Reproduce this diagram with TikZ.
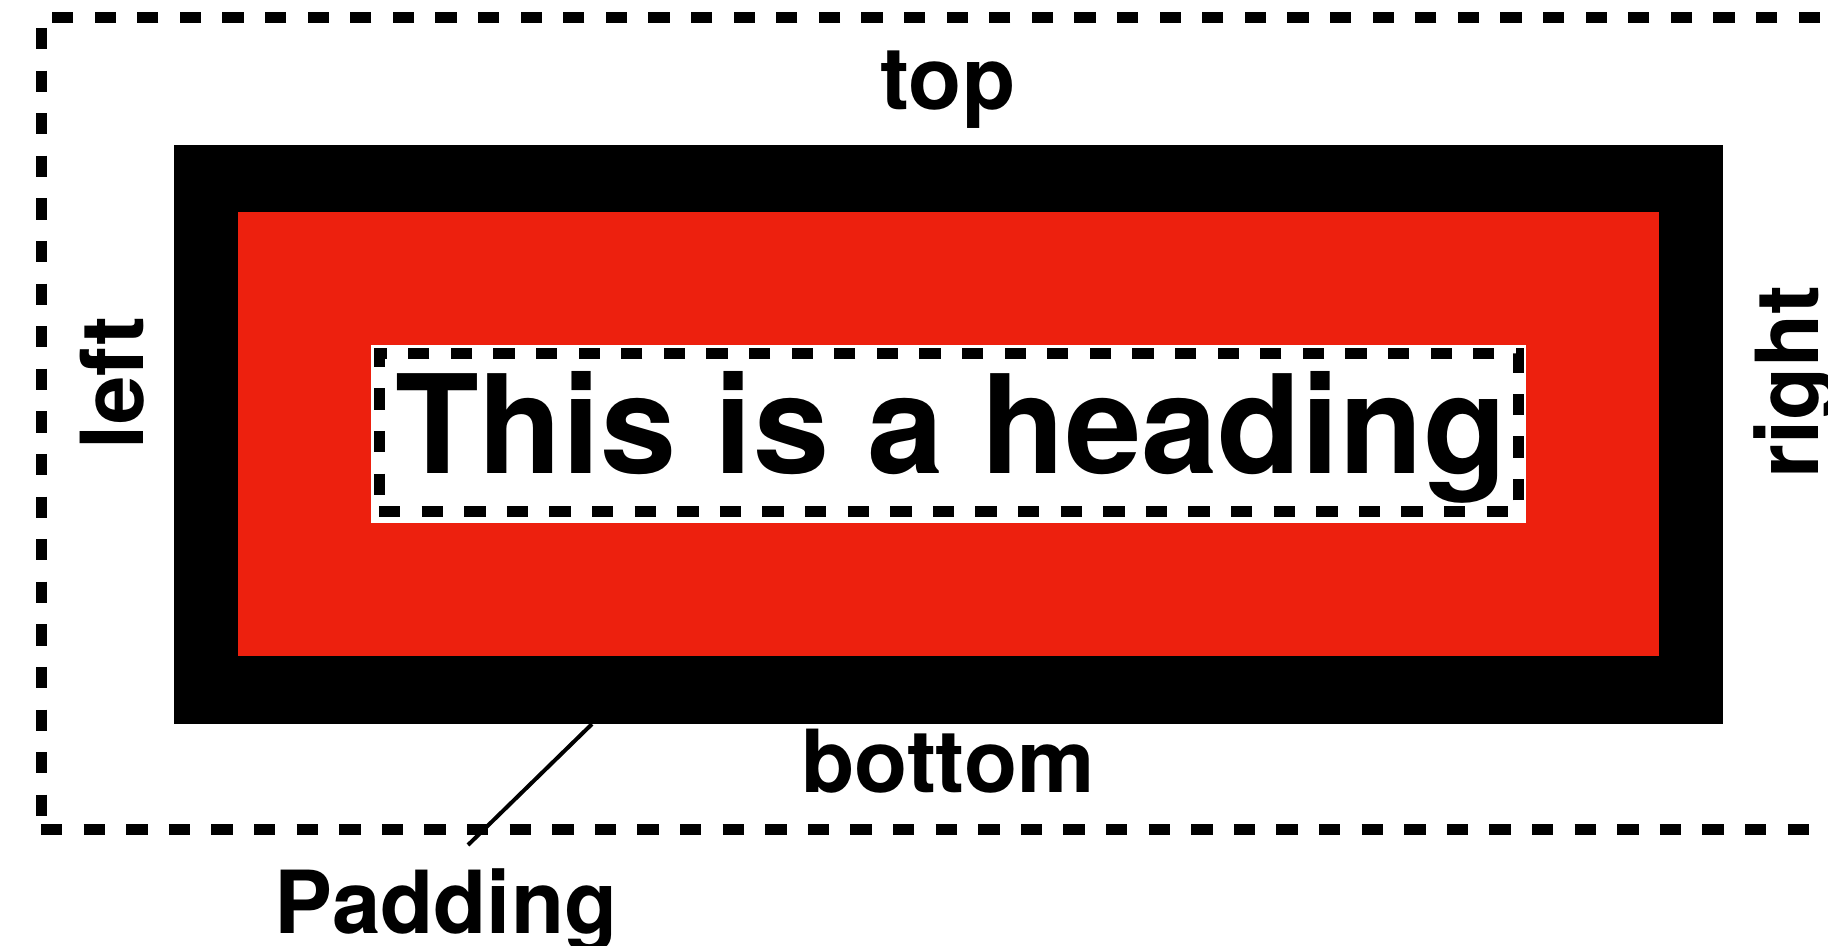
\documentclass[tikz,border=0pt]{standalone}
\usepackage{fontspec}
\setmainfont{TeX Gyre Heros}
\definecolor{padred}{RGB}{237,32,14}
\begin{document}
\begin{tikzpicture}[x=1pt,y=-1pt,
  box/.style={rectangle,inner sep=0pt,outer sep=0pt},
  dashline/.style={line width=11pt,dash pattern=on 21.3pt off 21.3pt},
  lbl/.style={font=\fontsize{87}{92}\selectfont\bfseries,inner sep=0pt,anchor=base},
  head/.style={font=\fontsize{137}{150}\selectfont\bfseries,inner sep=0pt,anchor=base}]
\useasboundingbox (0,0) rectangle (1828,945);
% margin (dashed outer)
\node[box,draw,dashline,minimum width=1804pt,minimum height=812pt] (margin) at (943,423.5) {};
% border
\node[box,fill=black,minimum width=1549pt,minimum height=579pt] (border) at (948.5,434.5) {};
% padding
\node[box,fill=padred,minimum width=1421pt,minimum height=444pt] (padding) at (948.5,434) {};
% content
\node[box,fill=white,minimum width=1155pt,minimum height=178pt] (content) at (948.5,434) {};
\node[box,draw,dashline,minimum width=1139pt,minimum height=158pt] (contentline) at (948.5,432.5) {};
\node[head] (heading) at (951,473) {This is a heading};
% labels
\node[lbl] (top) at (948,109) {top};
\node[lbl] (bottom) at (948,792) {bottom};
\node[lbl,rotate=90] (left) at (143,383) {left};
\node[lbl,rotate=90] (right) at (1818,382) {right};
\node[lbl] (padlabel) at (446,933) {Padding};
% connector
\coordinate (padstart) at ([xshift=418pt]border.south west);
\coordinate (padtip) at (468,845);
\draw[line width=4pt] (padstart) -- (padtip);
\end{tikzpicture}
\end{document}
